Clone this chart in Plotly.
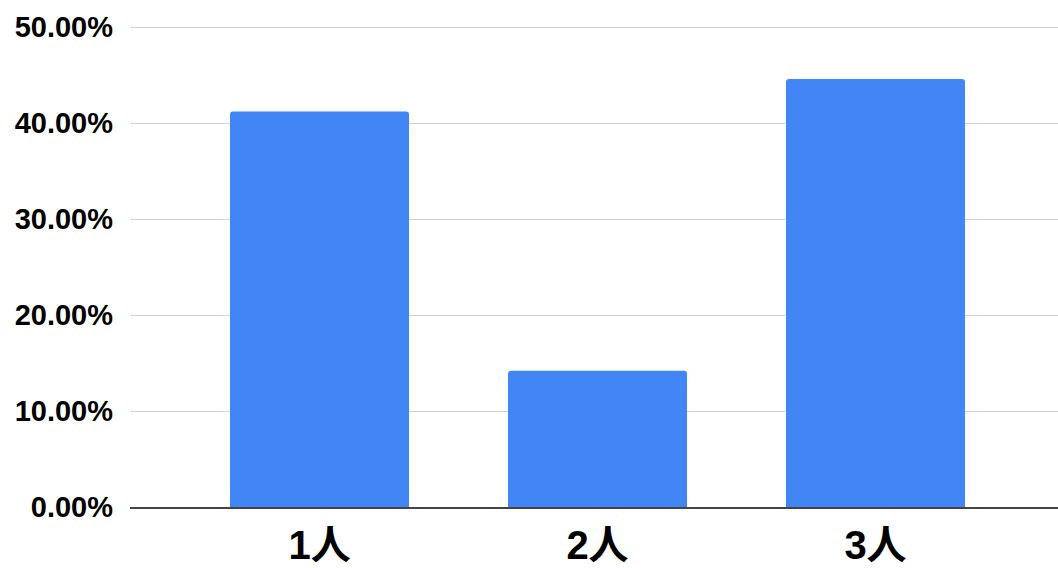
import plotly.graph_objects as go

categories = ["1人", "2人", "3人"]
shares = [0.412, 0.142, 0.446]
y_ticks = [0, 0.1, 0.2, 0.3, 0.4, 0.5]

FONT = "Liberation Sans, Arial, Noto Sans CJK JP, sans-serif"

fig = go.Figure(
    go.Bar(
        x=categories,
        y=shares,
        marker=dict(color="#4285F4", cornerradius=3, line=dict(width=0)),
        hoverinfo="skip",
    )
)

fig.update_layout(
    width=1058,
    height=568,
    margin=dict(l=130, r=0, t=24, b=61),
    plot_bgcolor="white",
    paper_bgcolor="white",
    bargap=0.356,
    showlegend=False,
)

fig.update_xaxes(
    type="category",
    range=[-0.6817, 2.6565],
    showgrid=False,
    showline=True,
    linecolor="#444444",
    linewidth=1.5,
    ticks="",
    tickfont=dict(family=FONT, size=40, color="#000000", weight="bold"),
    ticklabelstandoff=2,
)

fig.update_yaxes(
    range=[0, 0.5032],
    tickvals=y_ticks,
    tickformat=".2%",
    showgrid=True,
    gridcolor="#d3d3d3",
    gridwidth=1,
    zeroline=False,
    showline=False,
    ticks="",
    tickfont=dict(family=FONT, size=29, color="#000000", weight="bold"),
    ticklabelstandoff=16,
)

fig.write_html("out.html")
